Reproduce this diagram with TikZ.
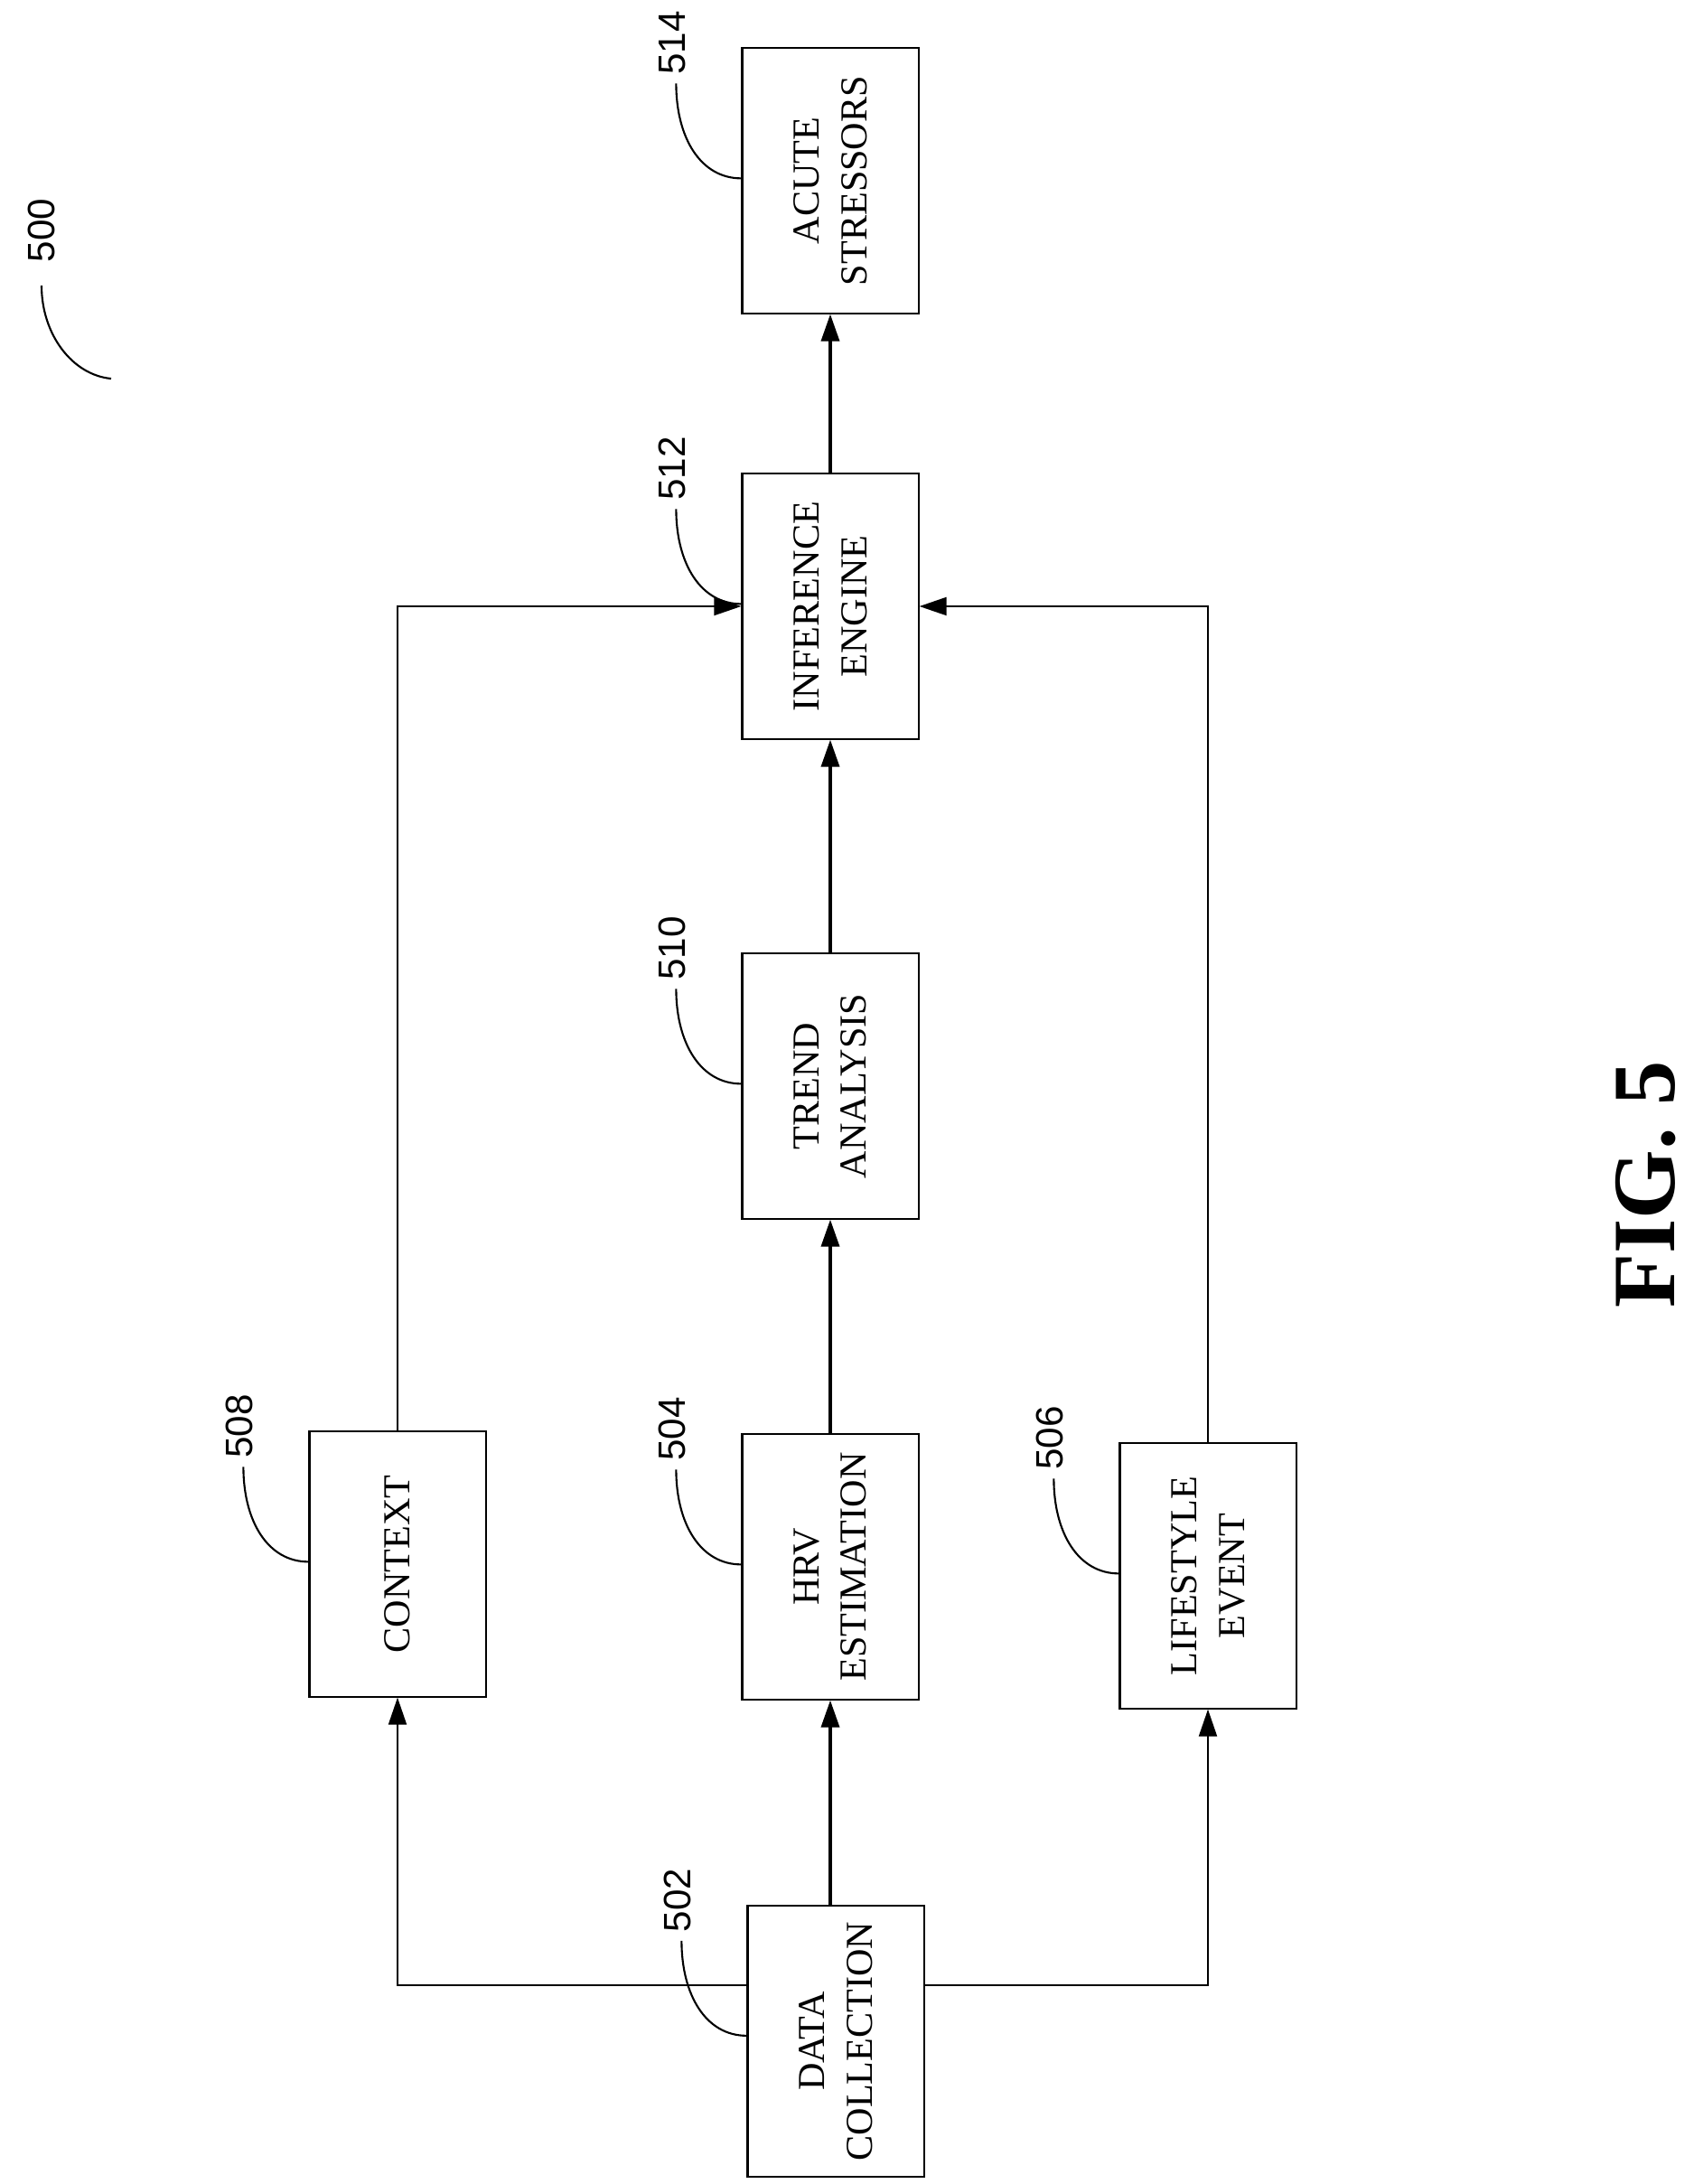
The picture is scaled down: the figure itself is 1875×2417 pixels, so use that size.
\documentclass[tikz,border=0pt]{standalone}
\usepackage{fontspec}
\setmainfont{Liberation Serif}
\newfontfamily\numfont{Liberation Sans}
\usetikzlibrary{arrows.meta,positioning}

\begin{document}
\begin{tikzpicture}[x=0.01cm, y=-0.01cm, line width=0.6pt,
                    >={Triangle[length=0.3cm,width=0.2cm]}]
\tikzstyle{box}=[draw, minimum width=1.95cm, minimum height=2.93cm, inner sep=0pt]
\tikzstyle{txt}=[rotate=90, align=center, font=\fontsize{12}{15}\selectfont]
\tikzstyle{num}=[rotate=90, font=\numfont\fontsize{12}{14}\selectfont]
\tikzstyle{flow}=[->, line width=1pt]

\useasboundingbox (0,0) rectangle (1875,2417);

\node [box] (as) at (919,200) {};
\node [box] (ie) at (919,671) {};
\node [box] (ta) at (919,1202) {};
\node [box] (hrv) at (919,1734) {};
\node [box, minimum height=3.0cm] (dc) at (925,2259) {};
\node [box] (ctx) at (440,1731) {};
\node [box] (le) at (1337,1744) {};

\node [txt] at (as) {ACUTE\\STRESSORS};
\node [txt] at (ie) {INFERENCE\\ENGINE};
\node [txt] at (ta) {TREND\\ANALYSIS};
\node [txt] at (hrv) {HRV\\ESTIMATION};
\node [txt] at (dc) {DATA\\COLLECTION};
\node [txt] at (ctx) {CONTEXT};
\node [txt] at (le) {LIFESTYLE\\EVENT};

% reference numbers
\foreach \b/\n in {as/514, ie/512, ta/510, hrv/504, dc/502, ctx/508, le/506} {
  \node [num] (n\n) at ([shift={(-76,-5)}]\b.north west) {\n};
  \draw ([shift={(-72,40)}]\b.north west) .. controls +(0,60) and +(-45,0) .. ([shift={(0,145)}]\b.north west);
}
\node [num] (n500) at (46,255) {500};
\draw (46,316) .. controls (46,370) and (80,415) .. (123,419);

% connectors
\coordinate (dcl) at (dc.west |- 0,2197);
\coordinate (dcr) at (dc.east |- 0,2197);
\draw [flow] (dc.north -| hrv) -- (hrv.south);
\draw [->] (dcl) -| (ctx.south);
\draw [->] (dcr) -| (le.south);
\draw [flow] (hrv) -- (ta.south);
\draw [flow] (ta) -- (ie.south);
\draw [flow] (ie) -- (as.south);
\draw [->] (ctx.north) |- (ie.west);
\draw [->] (le.north) |- (ie.east);

\node [rotate=90, font=\bfseries\fontsize{28}{32}\selectfont] (fig) at (1822,1311) {FIG. 5};
\end{tikzpicture}
\end{document}
